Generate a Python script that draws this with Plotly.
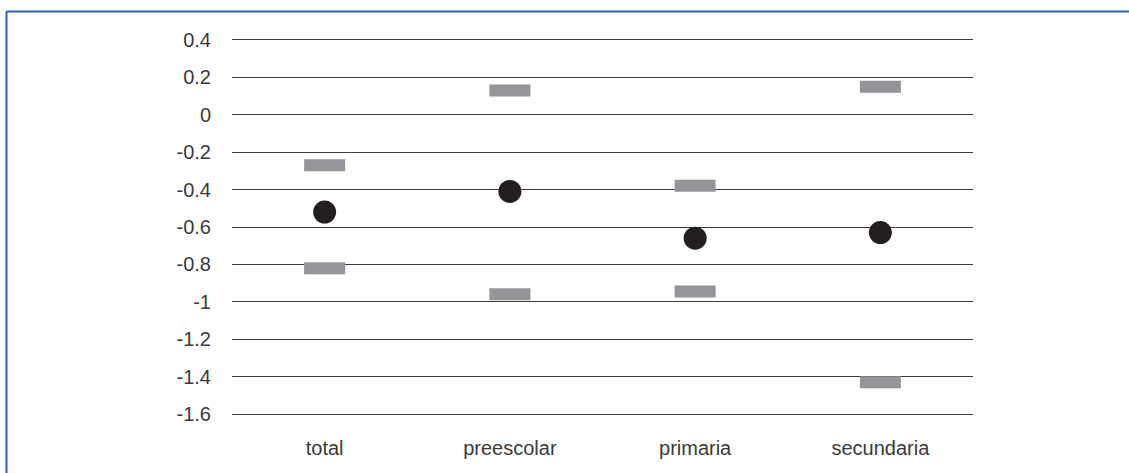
import plotly.graph_objects as go

# chart data
categories = ["total", "preescolar", "primaria", "secundaria"]
upper_values = [-0.27, 0.13, -0.38, 0.15]
mid_values = [-0.52, -0.41, -0.66, -0.63]
lower_values = [-0.82, -0.96, -0.945, -1.43]
y_ticks = [0.4, 0.2, 0, -0.2, -0.4, -0.6, -0.8, -1, -1.2, -1.4, -1.6]

GRAY = "#939598"
DARK = "#231f20"
GRID = "#3c3c3c"
FRAME = "#2a65b3"
FONT = "Liberation Sans, Arial, Helvetica, sans-serif"

fig = go.Figure()

# gray bar markers for the upper and lower bounds
# (line-ew draws a stroke 1.4x the marker size, so 29.3 -> ~41px wide)
for vals in (upper_values, lower_values):
    fig.add_trace(go.Scatter(
        x=categories,
        y=vals,
        mode="markers",
        marker=dict(symbol="line-ew", size=29.3,
                    line=dict(color=GRAY, width=12)),
        showlegend=False,
        hoverinfo="y",
    ))

# black dots for the central estimate
fig.add_trace(go.Scatter(
    x=categories,
    y=mid_values,
    mode="markers",
    marker=dict(symbol="circle", size=23, color=DARK),
    showlegend=False,
    hoverinfo="y",
))

fig.update_layout(
    width=1129,
    height=473,
    margin=dict(l=232, r=156, t=38, b=57),
    paper_bgcolor="white",
    plot_bgcolor="white",
    font=dict(family=FONT, size=20, color="#3a3a3a"),
    xaxis=dict(
        type="category",
        range=[-0.5, 3.5],
        showgrid=False,
        showline=False,
        zeroline=False,
        ticks="",
        ticklabelstandoff=18,
        tickfont=dict(size=20, color="#3a3a3a"),
    ),
    yaxis=dict(
        # a bit wider than the ticks so the edge grid lines are drawn
        range=[-1.61, 0.41],
        tickvals=y_ticks,
        ticktext=[f"{v:g}" for v in y_ticks],
        showgrid=True,
        gridcolor=GRID,
        gridwidth=1.2,
        zeroline=False,
        showline=False,
        ticks="",
        ticklabelstandoff=20,
        tickfont=dict(size=20, color="#3a3a3a"),
    ),
    shapes=[
        # open frame around the figure (left and top edges)
        dict(type="line", xref="paper", yref="paper",
             x0=-0.3043, x1=-0.3043, y0=1.070, y1=-0.2,
             line=dict(color=FRAME, width=2)),
        dict(type="line", xref="paper", yref="paper",
             x0=-0.3043, x1=1.22, y0=1.070, y1=1.070,
             line=dict(color=FRAME, width=2)),
    ],
)

fig.write_html("out.html",
               config={"displayModeBar": False},
               post_script="document.body.style.margin='0';")
